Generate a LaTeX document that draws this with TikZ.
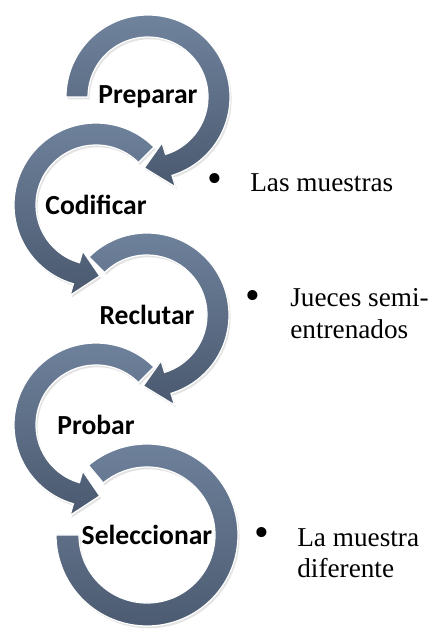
\documentclass[tikz,border=0pt]{standalone}
\usepackage{fontspec}
\usepackage{tikz}
\usetikzlibrary{calc,shadows}
\newfontfamily\stepfont{Carlito}
\newfontfamily\notefont{Liberation Serif}
\definecolor{ringtop}{RGB}{112,131,157}
\definecolor{ringbot}{RGB}{74,89,111}
\tikzset{
  ring/.style={top color=ringtop, bottom color=ringbot, draw=white, line width=0.7pt,
    drop shadow={opacity=0.22, shadow xshift=0.9pt, shadow yshift=-1.3pt}},
  steplabel/.style={font=\stepfont\bfseries\fontsize{15.7}{18}\selectfont, inner sep=0pt},
  bulletmark/.style={font=\notefont\fontsize{24}{24}\selectfont, inner sep=0pt},
  note/.style={font=\notefont\fontsize{15.5}{18}\selectfont, align=left, inner sep=0pt, anchor=north west}
}

\begin{document}
\begin{tikzpicture}[x=0.02cm,y=0.02cm]
\useasboundingbox (0,0) rectangle (431,630);

% ring centres
\coordinate (prep) at (148,533);
\coordinate (cod) at (96,425);
\coordinate (recl) at (147,315);
\coordinate (prob) at (96,205);
\coordinate (sel) at (147,95);

% rings, last one first
\path[ring] ($(sel)+(130:91)$) arc[start angle=130, end angle=-180, radius=91] -- ($(sel)+(180:68)$) arc[start angle=-180, end angle=130, radius=68] -- cycle;

\path[ring] ($(prob)+(45:82)$) arc[start angle=45, end angle=254, radius=82] -- ($(prob)+(254:94)$) -- ($(prob)+(273:71)$) -- ($(prob)+(254:48)$) -- ($(prob)+(254:60)$) arc[start angle=254, end angle=45, radius=60] -- cycle;

\path[ring] ($(recl)+(135:82)$) arc[start angle=135, end angle=-73, radius=82] -- ($(recl)+(-73:94)$) -- ($(recl)+(-93:71)$) -- ($(recl)+(-73:48)$) -- ($(recl)+(-73:60)$) arc[start angle=-73, end angle=135, radius=60] -- cycle;

\path[ring] ($(cod)+(45:82)$) arc[start angle=45, end angle=254, radius=82] -- ($(cod)+(254:94)$) -- ($(cod)+(273:71)$) -- ($(cod)+(254:48)$) -- ($(cod)+(254:60)$) arc[start angle=254, end angle=45, radius=60] -- cycle;

\path[ring] ($(prep)+(180:82)$) arc[start angle=180, end angle=-73, radius=82] -- ($(prep)+(-73:94)$) -- ($(prep)+(-93:71)$) -- ($(prep)+(-73:48)$) -- ($(prep)+(-73:60)$) arc[start angle=-73, end angle=180, radius=60] -- cycle;

% step names
\node[steplabel] (preparar) at (prep) {Preparar};
\node[steplabel] (codificar) at (cod) {Codificar};
\node[steplabel] (reclutar) at (recl) {Reclutar};
\node[steplabel] (probar) at (prob) {Probar};
\node[steplabel] (seleccionar) at (sel) {Seleccionar};

% notes
\node[bulletmark] (b1) at (215,447) {•};
\node[note, anchor=west] (n1) at (250,447) {Las muestras};
\node[bulletmark] (b2) at (253,330) {•};
\node[note] (n2) at (290,342) {Jueces semi-\\entrenados};
\node[bulletmark] (b3) at (262,93) {•};
\node[note] (n3) at (297,102) {La muestra\\diferente};

\end{tikzpicture}
\end{document}
